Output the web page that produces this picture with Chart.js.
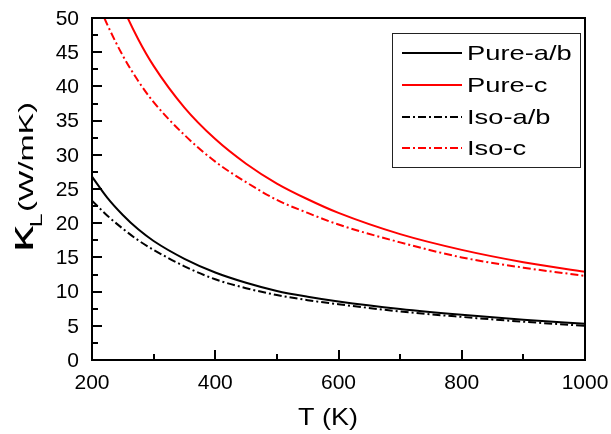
<!DOCTYPE html>
<html>
<head>
<meta charset="utf-8">
<script src="https://cdn.jsdelivr.net/npm/chart.js@4/dist/chart.umd.min.js"></script>
<style>
html, body { margin: 0; padding: 0; background: #fff; }
</style>
</head>
<body>
<canvas id="myChart" width="611" height="434"></canvas>
<script>
// temperature (K)
const temps  = [200, 225, 250, 275, 300, 350, 400, 450, 500, 550, 600, 700, 800, 900, 1000];
// lattice thermal conductivity (W/mK)
const pureAB = [26.8, 23.7, 21.2, 19.1, 17.4, 14.8, 12.8, 11.3, 10.1, 9.25, 8.55, 7.45, 6.6, 5.9, 5.3];
const pureC  = [64.5, 57.3, 51.6, 46.9, 43.0, 36.9, 32.3, 28.7, 25.8, 23.5, 21.5, 18.4, 16.1, 14.3, 12.9];
const isoAB  = [23.3, 21.1, 19.2, 17.5, 16.1, 13.7, 11.8, 10.5, 9.5, 8.75, 8.15, 7.1, 6.3, 5.6, 5.0];
const isoC   = [54.3, 49.0, 44.5, 40.8, 37.7, 32.9, 29.0, 26.0, 23.4, 21.5, 19.8, 17.2, 15.0, 13.5, 12.3];

const seriesNames = ["Pure-a/b", "Pure-c", "Iso-a/b", "Iso-c"];
const xTickStep = 200, xMinorStep = 100;
const yTickStep = 5, yMinorStep = 2.5;

const FONT = '"Liberation Sans", Arial, sans-serif';
const dashDot = [8, 3, 2, 3];

function pts(vals) {
    return temps.map((t, i) => ({ x: t, y: vals[i] }));
}

function ds(label, vals, color, dash) {
    return {
        label: label,
        data: pts(vals),
        borderColor: color,
        backgroundColor: color,
        borderWidth: 2,
        borderDash: dash,
        pointRadius: 0,
        cubicInterpolationMode: 'monotone',
        fill: false
    };
}

let data = {
    datasets: [
        ds(seriesNames[0], pureAB, '#000000', []),
        ds(seriesNames[1], pureC, '#ff0000', []),
        ds(seriesNames[2], isoAB, '#000000', dashDot),
        ds(seriesNames[3], isoC, '#ff0000', dashDot)
    ]
};

// frame, inward ticks, tick labels, axis titles and legend box
const decor = {
    id: 'decor',
    afterDraw(chart) {
        const ctx = chart.ctx;
        const a = chart.chartArea;
        const xs = chart.scales.x, ys = chart.scales.y;
        ctx.save();
        ctx.strokeStyle = '#000';
        ctx.lineWidth = 2;
        ctx.beginPath();
        for (let t = xs.min; t <= xs.max; t += xMinorStep) {
            const px = Math.round(xs.getPixelForValue(t));
            const len = (t - xs.min) % xTickStep === 0 ? 10 : 6;
            ctx.moveTo(px, a.bottom);
            ctx.lineTo(px, a.bottom - len);
        }
        for (let v = ys.min; v <= ys.max; v += yMinorStep) {
            const py = Math.round(ys.getPixelForValue(v));
            const len = v % yTickStep === 0 ? 10 : 6;
            ctx.moveTo(a.left, py);
            ctx.lineTo(a.left + len, py);
        }
        ctx.stroke();
        ctx.strokeRect(a.left, a.top, a.right - a.left, a.bottom - a.top);

        // tick labels
        ctx.fillStyle = '#000';
        ctx.font = '21px ' + FONT;
        ctx.textAlign = 'center';
        ctx.textBaseline = 'alphabetic';
        xs.ticks.forEach(t => {
            ctx.fillText(String(t.value), xs.getPixelForValue(t.value), a.bottom + 29);
        });
        ctx.textAlign = 'right';
        ctx.textBaseline = 'middle';
        ys.ticks.forEach(t => {
            ctx.fillText(String(t.value), a.left - 13, ys.getPixelForValue(t.value) + 1);
        });

        // x title
        ctx.font = '24px ' + FONT;
        ctx.textAlign = 'center';
        ctx.textBaseline = 'alphabetic';
        let w = ctx.measureText('T (K)').width;
        ctx.save();
        ctx.translate(328, 425);
        ctx.scale(60 / w, 1);
        ctx.fillText('T (K)', 0, 0);
        ctx.restore();

        // y title: kappa with subscript L
        ctx.save();
        ctx.textAlign = 'left';
        ctx.font = '34px ' + FONT;
        const wk = ctx.measureText('κ').width;
        ctx.font = '16px ' + FONT;
        const wl = ctx.measureText('L').width;
        ctx.font = '21px ' + FONT;
        const wr = ctx.measureText('(W/mK)').width;
        const sx = 150 / (wk + wl + wr);
        ctx.translate(33, 252);
        ctx.rotate(-Math.PI / 2);
        ctx.scale(sx, 1);
        ctx.font = '34px ' + FONT;
        ctx.fillText('κ', 0, 0);
        ctx.font = '16px ' + FONT;
        ctx.fillText('L', wk - 1, 9);
        ctx.font = '21px ' + FONT;
        ctx.fillText('(W/mK)', wk + wl, 0);
        ctx.restore();

        // legend
        ctx.lineWidth = 1;
        ctx.strokeStyle = '#222';
        ctx.strokeRect(392.5, 33.5, 188, 134);
        const rows = [53, 85, 117, 148];
        chart.data.datasets.forEach((d, i) => {
            ctx.beginPath();
            ctx.strokeStyle = d.borderColor;
            ctx.lineWidth = 2;
            ctx.setLineDash(d.borderDash);
            ctx.moveTo(402, rows[i]);
            ctx.lineTo(462, rows[i]);
            ctx.stroke();
            ctx.setLineDash([]);
            ctx.save();
            ctx.fillStyle = '#000';
            ctx.font = '21px ' + FONT;
            ctx.textAlign = 'left';
            ctx.textBaseline = 'middle';
            ctx.translate(467, rows[i] + 1);
            ctx.scale(1.3, 1);
            ctx.fillText(d.label, 0, 0);
            ctx.restore();
        });
        ctx.restore();
    }
};

let config = {
    type: 'line',
    data: data,
    options: {
        responsive: false,
        animation: false,
        devicePixelRatio: 1,
        layout: { padding: { top: 18, right: 26, left: 0, bottom: 0 } },
        plugins: {
            legend: { display: false },
            tooltip: { enabled: false }
        },
        scales: {
            x: {
                type: 'linear',
                min: 200,
                max: 1000,
                grid: { display: false, drawTicks: false },
                border: { display: false },
                ticks: { stepSize: xTickStep, display: false },
                afterFit: (scale) => { scale.height = 74; }
            },
            y: {
                min: 0,
                max: 50,
                grid: { display: false, drawTicks: false },
                border: { display: false },
                ticks: { stepSize: yTickStep, display: false },
                afterFit: (scale) => { scale.width = 92; }
            }
        }
    },
    plugins: [decor]
};

let myChart = new Chart(document.getElementById('myChart'), config);
</script>
</body>
</html>
